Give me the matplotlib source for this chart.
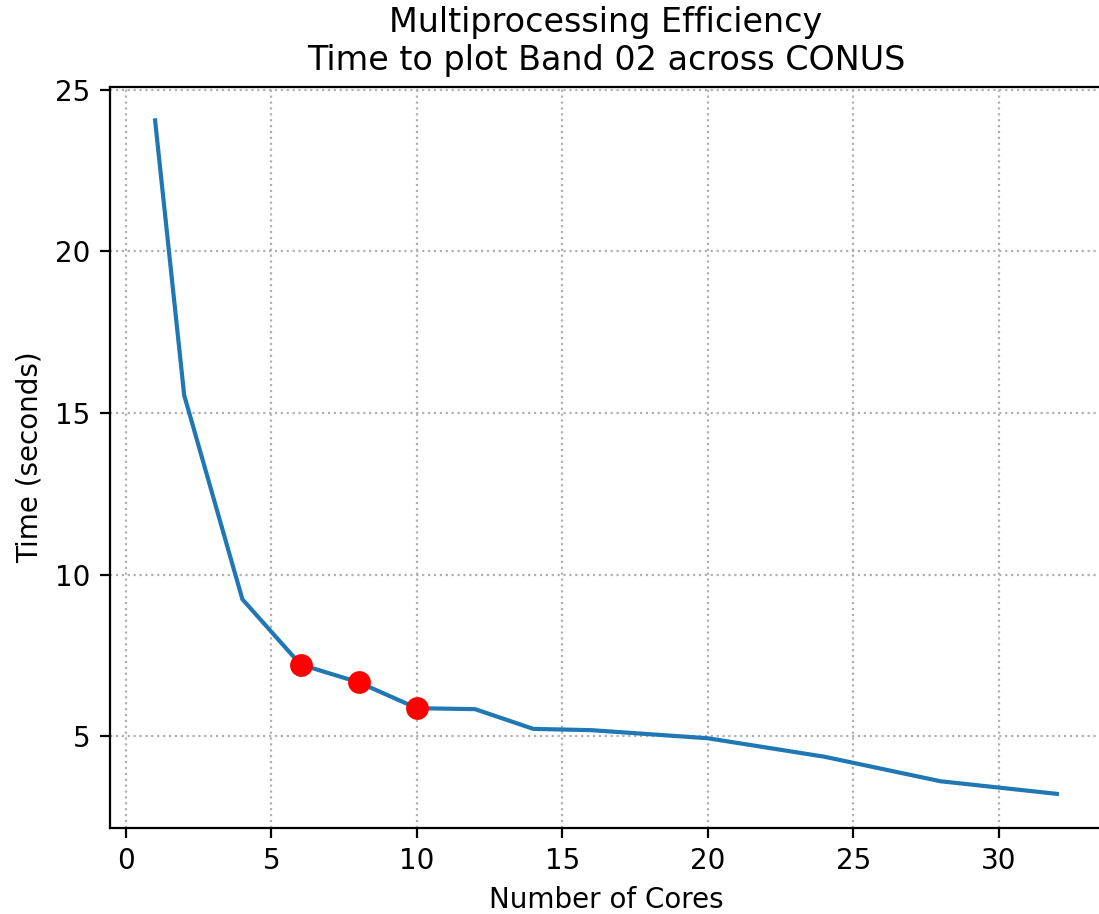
import matplotlib
matplotlib.use("Agg")
import matplotlib.pyplot as plt

cores = [1, 2, 4, 6, 8, 10, 12, 14, 16, 20, 24, 28, 32]
times = [24.05, 15.55, 9.24, 7.22, 6.67, 5.87, 5.84, 5.23, 5.19, 4.94, 4.37, 3.61, 3.22]
highlight_cores = [6, 8, 10]
highlight_times = [7.22, 6.67, 5.87]

title = "Multiprocessing Efficiency\nTime to plot Band 02 across CONUS"
xlabel = "Number of Cores"
ylabel = "Time (seconds)"

DPI = 200
fig = plt.figure(figsize=(1099 / DPI, 914 / DPI), dpi=DPI)
ax = fig.add_axes([0.1001, 0.0946, 0.9026, 0.8105])

ax.plot(cores, times, color="tab:blue", linewidth=1.5)
ax.plot(highlight_cores, highlight_times, "o", color="red", markersize=7.2, zorder=3)

ax.grid(linestyle=":", color="#b0b0b0", linewidth=0.8)
ax.set_xticks([0, 5, 10, 15, 20, 25, 30])
ax.set_yticks([5, 10, 15, 20, 25])
ax.spines["right"].set_visible(False)

ax.set_title(title, fontsize=12)
ax.set_xlabel(xlabel)
ax.set_ylabel(ylabel)

fig.savefig("out.png", dpi=DPI)
